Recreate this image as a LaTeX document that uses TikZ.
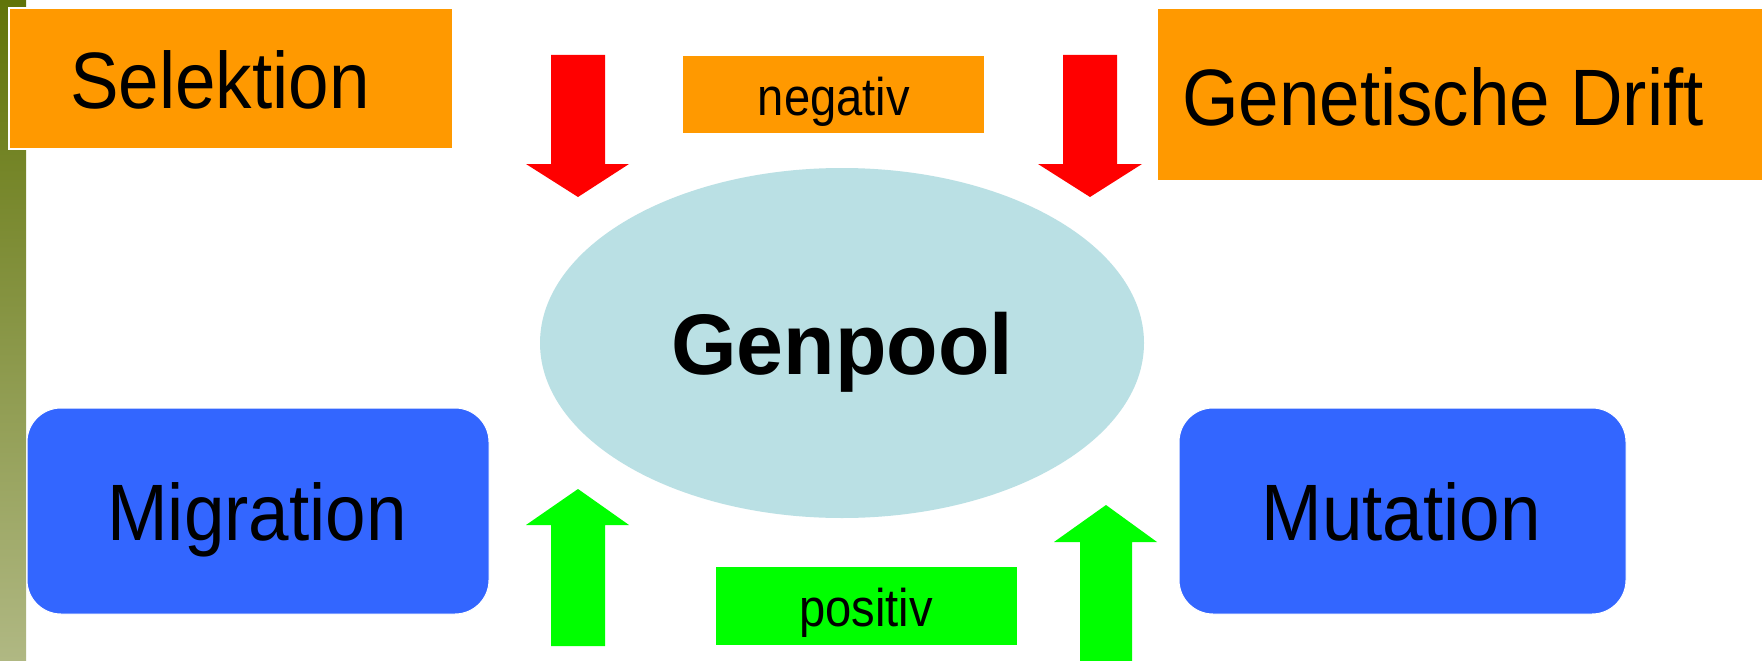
\documentclass[tikz,border=0pt]{standalone}
\usepackage{fontspec}
\setmainfont{Liberation Sans}
\newfontfamily\bigfam[FakeStretch=0.91]{Liberation Sans}
\newfontfamily\smallfam[FakeStretch=0.89]{Liberation Sans}
\newfontfamily\poolfam[FakeStretch=0.98]{Liberation Sans}
\definecolor{orangebox}{HTML}{FF9900}
\definecolor{bluebox}{HTML}{3366FF}
\definecolor{poolblue}{HTML}{BAE0E4}
\definecolor{greenbox}{HTML}{00FF00}
\definecolor{redarrow}{HTML}{FF0000}
\definecolor{olivetop}{HTML}{617409}
\definecolor{olivebot}{HTML}{B0B883}
\tikzset{
  orangerect/.style={fill=orangebox, draw=white, line width=1.5pt},
  bluerect/.style={fill=bluebox, draw=white, line width=1pt, rounded corners=34pt},
  bigtext/.style={font=\bigfam\fontsize{80}{88}\selectfont, anchor=base, inner sep=0pt},
  smalltext/.style={font=\smallfam\fontsize{53}{58}\selectfont, anchor=base, inner sep=0pt},
  redarr/.style={fill=redarrow, draw=none},
  greenarr/.style={fill=greenbox, draw=none},
}
\begin{document}
\begin{tikzpicture}[x=1pt,y=-1pt]
\useasboundingbox (0,0) rectangle (1762,661);
\fill[white] (0,0) rectangle (1762,661);
% left bar
\shade[top color=olivetop, bottom color=olivebot] (0,0) rectangle (26,661);
% boxes
\draw[orangerect] (9,8) rectangle (453,149);
\node[bigtext] (selektion) at (220,108) {Selektion};
\draw[orangerect] (1157,8) rectangle (1764,181);
\node[bigtext] (drift) at (1443,125) {Genetische Drift};
\fill[orangebox] (683,56) rectangle (984,133);
\node[smalltext] (negativ) at (834,115) {negativ};
\draw[bluerect] (27,408) rectangle (489,614);
\node[bigtext] (migration) at (257,540) {Migration};
\draw[bluerect] (1179,408) rectangle (1626,614);
\node[bigtext] (mutation) at (1401,540) {Mutation};
\fill[greenbox] (716,567) rectangle (1017,645);
\node[smalltext] (positiv) at (866,626) {positiv};
% ellipse
\fill[poolblue] (842,343) ellipse [x radius=302, y radius=175];
\node[font=\poolfam\fontsize{86}{92}\selectfont\bfseries, anchor=base, inner sep=0pt] (genpool) at (842,374) {Genpool};
% red arrows
\fill[redarr] (551,55) -- (605,55) -- (605,164) -- (629,164) -- (578,197) -- (526,164) -- (551,164) -- cycle;
\fill[redarr] (1063,55) -- (1117,55) -- (1117,164) -- (1142,164) -- (1090,197) -- (1038,164) -- (1063,164) -- cycle;
% green arrows
\fill[greenarr] (551,646) -- (605,646) -- (605,525) -- (629,525) -- (578,489) -- (526,525) -- (551,525) -- cycle;
\fill[greenarr] (1080,662) -- (1132,662) -- (1132,542) -- (1157,542) -- (1106,505) -- (1054,542) -- (1080,542) -- cycle;
\end{tikzpicture}
\end{document}
